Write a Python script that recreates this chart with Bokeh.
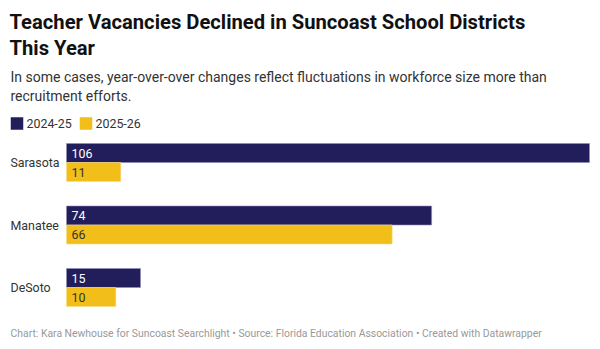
from bokeh.plotting import figure
from bokeh.models import Range1d, Label, ColumnDataSource
from bokeh.core.properties import value
from bokeh.embed import file_html
from bokeh.resources import INLINE

# ---- data ----
districts = ["Sarasota", "Manatee", "DeSoto"]
series_names = ["2024-25", "2025-26"]
vac_2024_25 = [106, 74, 15]
vac_2025_26 = [11, 66, 10]

title_lines = ["Teacher Vacancies Declined in Suncoast School Districts", "This Year"]
subtitle_lines = ["In some cases, year-over-over changes reflect fluctuations in workforce size more than",
                  "recruitment efforts."]
footer = "Chart: Kara Newhouse for Suncoast Searchlight \u2022 Source: Florida Education Association \u2022 Created with Datawrapper"

NAVY = "#211e5b"
YELLOW = "#f1be1a"
FONT = "Roboto"
LBL = "12.4px"

W, H = 600, 349
X0 = 66          # pixel where bars start
XMAX = 589       # pixel where the largest bar ends
k = (XMAX - X0) / max(vac_2024_25)

def px(xs):
    return (xs - X0) / k

p = figure(width=W, height=H, output_backend="svg", toolbar_location=None,
           x_range=Range1d(px(0), px(W)), y_range=Range1d(H, 0),
           min_border=0, min_border_left=0, min_border_right=0,
           min_border_top=0, min_border_bottom=0)
p.axis.visible = False
p.grid.visible = False
p.outline_line_color = None
p.background_fill_color = "white"
p.border_fill_color = "white"

first_center = 162.0
spacing = 62.5
bar_h = 19
centers = [first_center + i * spacing for i in range(len(districts))]
y_a = [c - bar_h / 2 for c in centers]
y_b = [c + bar_h / 2 for c in centers]

src_a = ColumnDataSource(dict(y=y_a, v=vac_2024_25, lab=[str(v) for v in vac_2024_25]))
src_b = ColumnDataSource(dict(y=y_b, v=vac_2025_26, lab=[str(v) for v in vac_2025_26]))

p.hbar(y="y", left=0, right="v", height=bar_h, source=src_a,
       fill_color=NAVY, line_color="#8f8db5", line_width=1, line_alpha=0.6)
p.hbar(y="y", left=0, right="v", height=bar_h, source=src_b,
       fill_color=YELLOW, line_color="#f7dc7d", line_width=1, line_alpha=0.6)

p.text(x=0, y="y", text="lab", source=src_a, x_offset=5, text_baseline="middle",
       text_color="white", text_font=value(FONT), text_font_size=LBL)
p.text(x=0, y="y", text="lab", source=src_b, x_offset=5, text_baseline="middle",
       text_color="#333333", text_font=value(FONT), text_font_size=LBL)

for d, c in zip(districts, centers):
    p.add_layout(Label(x=10, y=c, x_units="screen", text=d, text_baseline="middle",
                       text_font=FONT, text_font_size=LBL, text_color="#333333"))

# title / subtitle
for i, t in enumerate(title_lines):
    p.add_layout(Label(x=9, y=21 + i * 26, x_units="screen", text=t, text_baseline="middle",
                       text_font=FONT, text_font_size="20.2px", text_font_style="bold",
                       text_color="#111111"))
for i, t in enumerate(subtitle_lines):
    p.add_layout(Label(x=10, y=76.5 + i * 18.5, x_units="screen", text=t, text_baseline="middle",
                       text_font=FONT, text_font_size="14px", text_color="#333333"))

# legend
leg_x = [10, 79]
for name, col, lx in zip(series_names, [NAVY, YELLOW], leg_x):
    p.rect(x=px(lx + 6.5), y=123, width=12.5 / k, height=12.5, fill_color=col, line_color=None)
    p.add_layout(Label(x=lx + 16, y=123, x_units="screen", text=name, text_baseline="middle",
                       text_font=FONT, text_font_size=LBL, text_color="#333333"))

p.add_layout(Label(x=10, y=332.5, x_units="screen", text=footer, text_baseline="middle",
                   text_font=FONT, text_font_size="10.4px", text_color="#999999"))

open("out.html", "w").write(file_html(p, INLINE))
